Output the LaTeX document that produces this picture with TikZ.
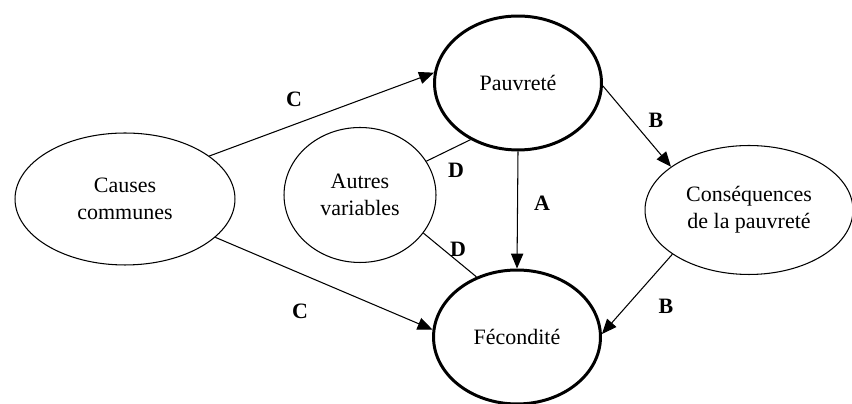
\documentclass[tikz,border=0pt]{standalone}
\usepackage{fontspec}
\setmainfont{Liberation Serif}
\usetikzlibrary{shapes.geometric,arrows.meta}

\begin{document}
\begin{tikzpicture}[x=0.02cm,y=-0.02cm,
    every node/.style={font=\fontsize{12.5}{15.4}\selectfont,align=center},
    var/.style={draw,ellipse,line width=0.6pt,inner sep=0pt},
    key/.style={draw,ellipse,line width=1.7pt,inner sep=0pt,minimum width=3.34cm,minimum height=2.68cm},
    lbl/.style={font=\fontsize{12.5}{15}\selectfont\bfseries,inner sep=0pt},
    conn/.style={line width=0.6pt},
    >={Triangle[length=8.5pt,width=7pt]}]
    \useasboundingbox (0, 0) rectangle (852, 404);
    \node[key] (pauv) at (518, 83) {Pauvret\'e};
    \node[key] (fec) at (517, 337) {F\'econdit\'e};
    \node[var,minimum width=4.4cm,minimum height=2.64cm] (causes) at (125, 199) {Causes\\communes};
    \node[var,minimum width=3.04cm,minimum height=2.7cm] (autres) at (360, 195) {Autres\\variables};
    \node[var,minimum width=4.16cm,minimum height=2.58cm] (cons) at (749, 210) {Cons\'equences\\de la pauvret\'e};
    \draw [conn,->] (causes.27) to (pauv.173);
    \draw [conn,->] (causes.-23) to (fec.175);
    \draw [conn] (autres.27) to (pauv.-130);
    \draw [conn] (autres.-31) to (fec.124);
    \draw [conn,->] (pauv.south) to (fec.north);
    \draw [conn,->] (pauv.-2) to (cons.151);
    \draw [conn,->] (cons.-150) to (fec.2);
    \node[lbl] (c1) at (294, 99) {C};
    \node[lbl] (c2) at (300, 311) {C};
    \node[lbl] (d1) at (456, 170) {D};
    \node[lbl] (d2) at (458, 249) {D};
    \node[lbl] (a) at (542, 203) {A};
    \node[lbl] (b1) at (656, 120) {B};
    \node[lbl] (b2) at (666, 306) {B};
\end{tikzpicture}
\end{document}
